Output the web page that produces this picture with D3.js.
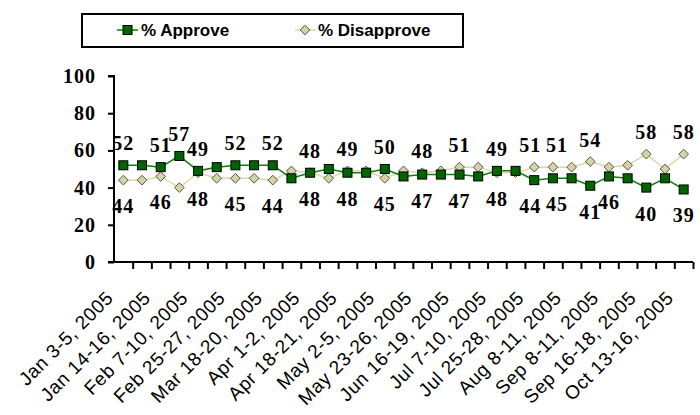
<!DOCTYPE html>
<html>
<head>
<meta charset="utf-8">
<script src="https://cdn.jsdelivr.net/npm/d3@7"></script>
<style>
body { margin: 0; background: #fff; }
svg { display: block; }
</style>
</head>
<body>
<svg id="chart"></svg>
<script>
// tick labels sit under every other poll
const xLabels = ["Jan 3-5, 2005", "Jan 14-16, 2005", "Feb 7-10, 2005", "Feb 25-27, 2005",
	"Mar 18-20, 2005", "Apr 1-2, 2005", "Apr 18-21, 2005", "May 2-5, 2005", "May 23-26, 2005",
	"Jun 16-19, 2005", "Jul 7-10, 2005", "Jul 25-28, 2005", "Aug 8-11, 2005", "Sep 8-11, 2005",
	"Sep 16-18, 2005", "Oct 13-16, 2005"];
const approve = [52, 52, 51, 57, 49, 51, 52, 52, 52, 45, 48, 50, 48, 48, 50, 46, 47, 47, 47, 46,
	49, 49, 44, 45, 45, 41, 46, 45, 40, 45, 39];
const disapprove = [44, 44, 46, 40, 48, 45, 45, 45, 44, 49, 48, 45, 49, 49, 45, 49, 48, 49, 51, 51,
	48, 48, 51, 51, 51, 54, 51, 52, 58, 50, 58];
// polls that carry a value label
const approveLabeled = [0, 2, 3, 4, 6, 8, 10, 12, 14, 16, 18, 20, 22, 23, 25, 26, 28, 30];
const disapproveLabeled = [0, 2, 4, 6, 8, 10, 12, 14, 16, 18, 20, 22, 23, 25, 28, 30];
const yTicks = [0, 20, 40, 60, 80, 100];

const width = 700, height = 415;
const svg = d3.select("#chart").attr("width", width).attr("height", height);

const plot = { left: 114, right: 693, top: 76, bottom: 262 };
const n = approve.length;

const x = d3.scaleBand().domain(d3.range(n)).range([plot.left, plot.right]);
const xEdge = d3.scaleLinear().domain([0, n]).range([plot.left, plot.right]);
const y = d3.scaleLinear().domain([0, 100]).range([plot.bottom, plot.top]);
const cx = i => x(i) + x.bandwidth() / 2;

const numFont = "'Liberation Serif', 'Times New Roman', serif";
const sansFont = "'Liberation Sans', Arial, sans-serif";

// axes
const yAxis = svg.append("g")
	.attr("transform", `translate(${plot.left},0)`)
	.call(d3.axisLeft(y).tickValues(yTicks).tickSize(6).tickPadding(12));
const xAxis = svg.append("g")
	.attr("transform", `translate(0,${plot.bottom})`)
	.call(d3.axisBottom(xEdge).tickValues(d3.range(1, n + 1)).tickSize(7).tickFormat(""));
[yAxis, xAxis].forEach(g => {
	g.select(".domain").attr("stroke", "#000").attr("stroke-width", 2);
	g.selectAll(".tick line").attr("stroke", "#000").attr("stroke-width", 2);
});
yAxis.select(".domain").attr("d", `M-6,${plot.top}H0V${plot.bottom}`);
xAxis.select(".domain").attr("d", `M${plot.left - 6},0H${plot.right}`);
yAxis.selectAll(".tick text")
	.attr("font-family", numFont).attr("font-weight", "bold")
	.attr("font-size", 20).attr("letter-spacing", 1).attr("fill", "#000");

// rotated date labels
svg.append("g").selectAll("text")
	.data(xLabels)
	.join("text")
	.attr("transform", (d, k) => `translate(${cx(k * 2) - 9},${299}) rotate(-45)`)
	.attr("text-anchor", "end")
	.attr("font-family", sansFont)
	.attr("font-size", 19)
	.attr("letter-spacing", 0.6)
	.attr("fill", "#000")
	.text(d => d);

// lines
const line = d3.line().x((d, i) => cx(i)).y(d => y(d));
svg.append("path").datum(disapprove)
	.attr("fill", "none").attr("stroke", "#dcd8a8").attr("stroke-width", 1.5)
	.attr("d", line);
svg.append("path").datum(approve)
	.attr("fill", "none").attr("stroke", "#0a7f0a").attr("stroke-width", 1.5)
	.attr("d", line);

// markers
const diamond = d3.symbol().type(d3.symbolDiamond2).size(60);
svg.append("g").selectAll("path")
	.data(disapprove)
	.join("path")
	.attr("transform", (d, i) => `translate(${cx(i)},${y(d)})`)
	.attr("d", diamond)
	.attr("fill", "#d6d2a2").attr("stroke", "#555").attr("stroke-width", 1);
svg.append("g").selectAll("rect")
	.data(approve)
	.join("rect")
	.attr("x", (d, i) => cx(i) - 4.5).attr("y", d => y(d) - 4.5)
	.attr("width", 9).attr("height", 9)
	.attr("fill", "#006400").attr("stroke", "#000").attr("stroke-width", 1);

// value labels: the higher value goes above, the lower one below
// two crowded neighbours get pushed apart a little
const nudge = { 22: -4, 23: 4 };
function addLabels(values, other, idx, isApprove) {
	svg.append("g").selectAll("text")
		.data(idx)
		.join("text")
		.attr("x", i => cx(i) + (nudge[i] || 0))
		.attr("y", i => {
			const above = isApprove ? values[i] >= other[i] : values[i] > other[i];
			return above ? y(values[i]) - 15 : y(values[i]) + 33;
		})
		.attr("text-anchor", "middle")
		.attr("font-family", numFont).attr("font-weight", "bold")
		.attr("font-size", 20).attr("letter-spacing", 1).attr("fill", "#000")
		.text(i => values[i]);
}
addLabels(approve, disapprove, approveLabeled, true);
addLabels(disapprove, approve, disapproveLabeled, false);

// legend
const legend = svg.append("g");
legend.append("rect").attr("x", 82).attr("y", 14).attr("width", 381).attr("height", 33)
	.attr("fill", "#fff").attr("stroke", "#000").attr("stroke-width", 2);
legend.append("line").attr("x1", 117).attr("x2", 138).attr("y1", 30).attr("y2", 30)
	.attr("stroke", "#0a7f0a").attr("stroke-width", 1.5);
legend.append("rect").attr("x", 123).attr("y", 25.5).attr("width", 9).attr("height", 9)
	.attr("fill", "#006400").attr("stroke", "#000");
legend.append("text").attr("x", 141).attr("y", 36)
	.attr("font-family", sansFont).attr("font-weight", "bold").attr("font-size", 17)
	.text("% Approve");
legend.append("line").attr("x1", 295).attr("x2", 316).attr("y1", 30).attr("y2", 30)
	.attr("stroke", "#dcd8a8").attr("stroke-width", 1.5);
legend.append("path").attr("transform", "translate(305,30)").attr("d", diamond)
	.attr("fill", "#d6d2a2").attr("stroke", "#555");
legend.append("text").attr("x", 318).attr("y", 36)
	.attr("font-family", sansFont).attr("font-weight", "bold").attr("font-size", 17)
	.text("% Disapprove");
</script>
</body>
</html>
